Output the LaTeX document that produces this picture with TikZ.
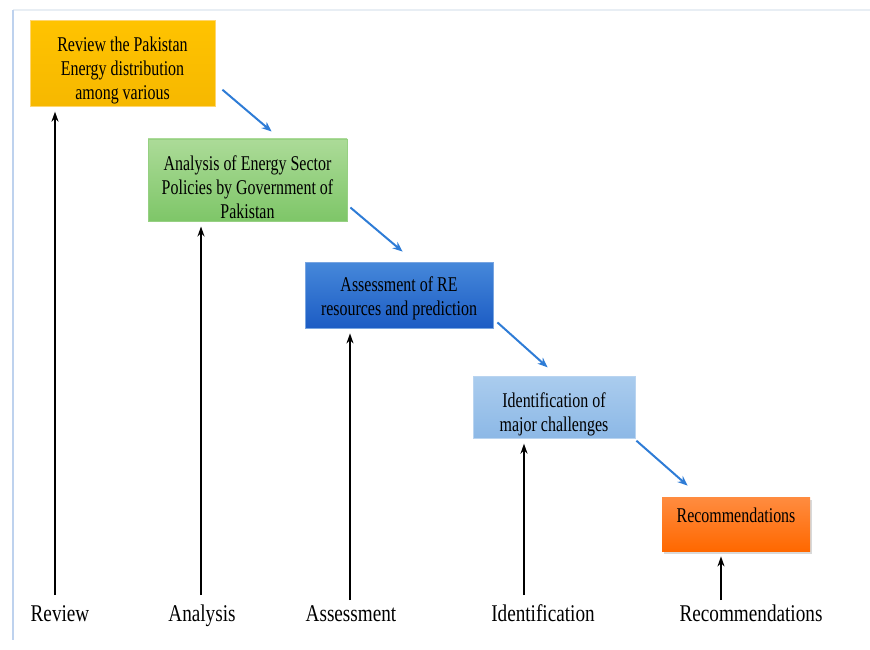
\documentclass[tikz,border=0pt]{standalone}
\usepackage{fontspec}
\setmainfont{Liberation Serif}[FakeStretch=0.8]
\newfontfamily\narrowserif{Liberation Serif}[FakeStretch=0.76]
\usetikzlibrary{arrows.meta,shadows}
\newcommand{\boxfont}{\narrowserif\fontsize{21}{24}\selectfont}
\newcommand{\stagefont}{\fontsize{24}{28}\selectfont}
\newcommand{\padtop}[1]{\rule{0pt}{#1}}

\definecolor{flowblue}{RGB}{46,124,214}

\begin{document}
\begin{tikzpicture}[x=1pt,y=-1pt,
	stage/.style={align=center, font=\boxfont, inner sep=2pt, line width=0.8pt},
	stagelabel/.style={font=\stagefont, anchor=base},
	flow/.style={draw=flowblue, line width=2pt, -{Stealth[length=10pt,width=8pt]}},
	up/.style={draw=black, line width=1.6pt, -{Stealth[length=10pt,width=7pt]}, shorten >=5pt}]
	\useasboundingbox (0,0) rectangle (870,649);
	% frame
	\draw[color={rgb,255:red,232;green,238;blue,244}, line width=1.2pt] (13,10) -- (870,10);
	\draw[color={rgb,255:red,190;green,210;blue,238}, line width=1.5pt] (13,10) -- (13,640);
	% stages
	\node[stage, minimum width=185pt, minimum height=79pt, draw={rgb,255:red,255;green,214;blue,110},
		top color={rgb,255:red,255;green,195;blue,0}, bottom color={rgb,255:red,246;green,184;blue,0}]
		(b1) at (122.5,63.5) {\padtop{29pt}Review the Pakistan\\Energy distribution\\among various};
	\node[stage, minimum width=199pt, minimum height=82pt, draw={rgb,255:red,150;green,208;blue,130},
		top color={rgb,255:red,172;green,219;blue,152}, bottom color={rgb,255:red,126;green,198;blue,104}]
		(b2) at (247.5,180) {\padtop{30pt}Analysis\ of Energy Sector\\Policies by Government of\\Pakistan};
	\node[stage, minimum width=188pt, minimum height=66pt, draw={rgb,255:red,120;green,165;blue,225},
		top color={rgb,255:red,70;green,136;blue,218}, bottom color={rgb,255:red,28;green,92;blue,196}]
		(b3) at (399,295) {\padtop{22pt}Assessment\ of RE\\resources and prediction};
	\node[stage, minimum width=162pt, minimum height=61pt, draw={rgb,255:red,185;green,212;blue,240},
		top color={rgb,255:red,170;green,204;blue,238}, bottom color={rgb,255:red,140;green,184;blue,230}]
		(b4) at (554,407.5) {\padtop{29pt}Identification of\\major challenges};
	\node[stage, minimum width=148pt, minimum height=54pt, drop shadow={opacity=0.3, shadow xshift=2pt, shadow yshift=-3pt},
		top color={rgb,255:red,255;green,140;blue,64}, bottom color={rgb,255:red,255;green,104;blue,0}]
		(b5) at (736,524) {Recommendations\rule[-17pt]{0pt}{17pt}};
	% flow between stages
	\draw[flow] ([shift={(7pt,17pt)}]b1.south east) -- ([shift={(124pt,7pt)}]b2.north west);
	\draw[flow] ([shift={(3pt,14pt)}]b2.south east) -- ([shift={(98pt,10pt)}]b3.north west);
	\draw[flow] ([shift={(4pt,6pt)}]b3.south east) -- ([shift={(75pt,9pt)}]b4.north west);
	\draw[flow] ([shift={(1pt,-2pt)}]b4.south east) -- ([shift={(26pt,11pt)}]b5.north west);
	% phase labels
	\node[stagelabel] (l1) at (60,621) {Review};
	\node[stagelabel] (l2) at (202,621) {Analysis};
	\node[stagelabel] (l3) at (351,621) {Assessment};
	\node[stagelabel] (l4) at (543,621) {Identification};
	\node[stagelabel] (l5) at (751,621) {Recommendations};
	\coordinate (s1) at (55,595);
	\coordinate (s2) at (201,595);
	\coordinate (s3) at (350,600);
	\coordinate (s4) at (524,595);
	\coordinate (s5) at (721,600);
	\draw[up] (s1) -- (s1 |- b1.south);
	\draw[up] (s2) -- (s2 |- b2.south);
	\draw[up] (s3) -- (s3 |- b3.south);
	\draw[up] (s4) -- (s4 |- b4.south);
	\draw[up] (s5) -- (s5 |- b5.south);
\end{tikzpicture}
\end{document}
